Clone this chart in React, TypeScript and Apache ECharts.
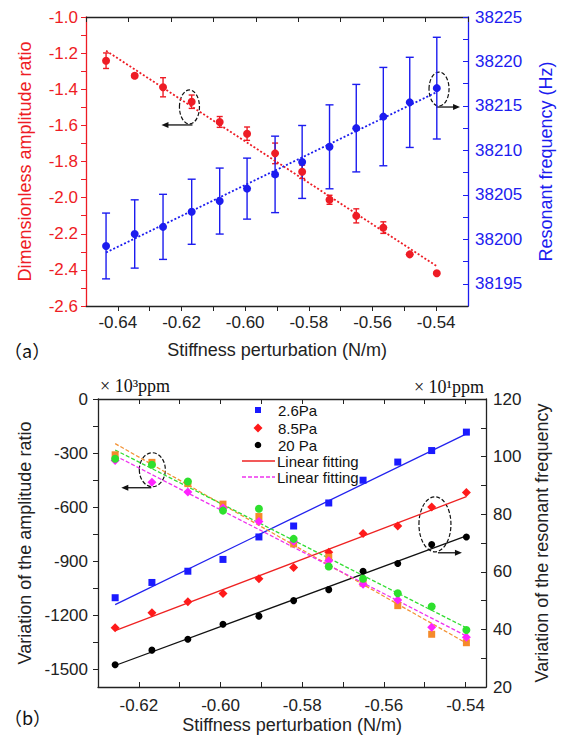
import React, { useEffect, useRef } from "react";
import * as echarts from "echarts";

const FONT = "'Liberation Sans', Arial, Helvetica, sans-serif";
const SERIF = "'Liberation Serif', 'Times New Roman', serif";

// Stiffness perturbation (N/m), shared by both panels
const stiffness = [-0.6437, -0.6347, -0.6258, -0.6168, -0.608, -0.5994, -0.5906, -0.5821, -0.5735, -0.5651, -0.5566, -0.5483, -0.5398];

// Panel (a)
const amplitudeRatio = [-1.242, -1.325, -1.389, -1.469, -1.581, -1.646, -1.755, -1.857, -2.012, -2.101, -2.166, -2.314, -2.419];
const amplitudeErr = [0.043, 0.01, 0.053, 0.037, 0.03, 0.037, 0.057, 0.037, 0.025, 0.039, 0.032, 0.008, 0.008];
const resonantFreq = [38199.25, 38200.6, 38201.4, 38203.1, 38204.3, 38205.7, 38207.3, 38208.7, 38210.4, 38212.5, 38213.8, 38215.4, 38217.0];
const freqErr = [3.7, 3.84, 3.66, 3.66, 3.71, 3.43, 4.3, 4.1, 4.72, 4.92, 5.53, 5.07, 5.72];

const aXTicks = [-0.64, -0.63, -0.62, -0.61, -0.6, -0.59, -0.58, -0.57, -0.56, -0.55, -0.54];
const aXLabels = [-0.64, -0.62, -0.6, -0.58, -0.56, -0.54];
const aLeftTicks = [-2.6, -2.5, -2.4, -2.3, -2.2, -2.1, -2.0, -1.9, -1.8, -1.7, -1.6, -1.5, -1.4, -1.3, -1.2, -1.1, -1.0];
const aLeftLabels = [-2.6, -2.4, -2.2, -2.0, -1.8, -1.6, -1.4, -1.2, -1.0];
const aRightTicks = [38195, 38197.5, 38200, 38202.5, 38205, 38207.5, 38210, 38212.5, 38215, 38217.5, 38220, 38222.5, 38225];
const aRightLabels = [38195, 38200, 38205, 38210, 38215, 38220, 38225];

// Panel (b) (same stiffness points, from the third onward)
const stiffnessB = stiffness.slice(2);
const freq26 = [51.0, 56.3, 60.2, 64.3, 72.1, 75.9, 83.9, 91.8, 98.1, 102.1, 108.5];
const freq85 = [40.6, 45.8, 49.6, 52.5, 57.6, 61.5, 66.8, 73.3, 75.9, 82.5, 87.5];
const freq20 = [27.7, 32.8, 36.6, 41.8, 44.6, 50.0, 53.8, 60.2, 62.9, 69.5, 72.1];
const amp26 = [-310, -352, -470, -584, -653, -805, -879, -1023, -1148, -1307, -1354];
const amp85 = [-341, -462, -517, -605, -681, -790, -898, -1029, -1116, -1268, -1324];
const amp20 = [-332, -365, -458, -620, -610, -777, -931, -999, -1079, -1153, -1283];

const bXTicks = [-0.62, -0.61, -0.6, -0.59, -0.58, -0.57, -0.56, -0.55, -0.54];
const bXLabels = [-0.62, -0.6, -0.58, -0.56, -0.54];
const bLeftTicks = [-1500, -1350, -1200, -1050, -900, -750, -600, -450, -300, -150, 0];
const bLeftLabels = [-1500, -1200, -900, -600, -300, 0];
const bRightTicks = [20, 30, 40, 50, 60, 70, 80, 90, 100, 110, 120];
const bRightLabels = [20, 40, 60, 80, 100, 120];

const legendNames = ["2.6Pa", "8.5Pa", "20 Pa", "Linear fitting", "Linear fitting"];

const RED = "#ee1c25";
const BLUE = "#1c1cef";
const AXIS = "#222";

function linFit(xs: number[], ys: number[]) {
  const n = xs.length;
  const mx = xs.reduce((a, b) => a + b, 0) / n;
  const my = ys.reduce((a, b) => a + b, 0) / n;
  let sxy = 0, sxx = 0;
  for (let i = 0; i < n; i++) {
    sxy += (xs[i] - mx) * (ys[i] - my);
    sxx += (xs[i] - mx) * (xs[i] - mx);
  }
  const k = sxy / sxx;
  const b = my - k * mx;
  return [[xs[0], k * xs[0] + b], [xs[n - 1], k * xs[n - 1] + b]];
}

function errorBars(xs: number[], ys: number[], errs: number[], xi: number, yi: number, color: string, cap: number) {
  return {
    type: "custom",
    xAxisIndex: xi,
    yAxisIndex: yi,
    z: 2,
    data: xs.map((x, i) => [x, ys[i] - errs[i], ys[i] + errs[i]]),
    encode: { x: 0, y: [1, 2] },
    renderItem: (params: any, api: any) => {
      const x = api.value(0);
      const lo = api.coord([x, api.value(1)]);
      const hi = api.coord([x, api.value(2)]);
      const style = { stroke: color, lineWidth: 1.4 };
      return {
        type: "group",
        children: [
          { type: "line", shape: { x1: lo[0], y1: lo[1], x2: hi[0], y2: hi[1] }, style },
          { type: "line", shape: { x1: lo[0] - cap, y1: lo[1], x2: lo[0] + cap, y2: lo[1] }, style },
          { type: "line", shape: { x1: hi[0] - cap, y1: hi[1], x2: hi[0] + cap, y2: hi[1] }, style },
        ],
      };
    },
  };
}

const tickLabel = (color: string, size: number, margin: number, values: number[], fmt: (v: number) => string) => ({
  show: true,
  customValues: values,
  color,
  fontSize: size,
  fontFamily: FONT,
  margin,
  formatter: fmt,
});

function scatter(xs: number[], ys: number[], xi: number, yi: number, symbol: string, size: number, color: string, z = 4) {
  return {
    type: "scatter",
    xAxisIndex: xi,
    yAxisIndex: yi,
    symbol,
    symbolSize: size,
    z,
    itemStyle: { color, opacity: 1 },
    data: xs.map((x, i) => [x, ys[i]]),
  };
}

function fitLine(xs: number[], ys: number[], xi: number, yi: number, color: string, type: any, width: number) {
  return {
    type: "line",
    xAxisIndex: xi,
    yAxisIndex: yi,
    symbol: "none",
    z: 3,
    lineStyle: { color, type, width },
    data: linFit(xs, ys),
  };
}

export default function App() {
  const ref = useRef<HTMLDivElement>(null);
  useEffect(() => {
    if (!ref.current) return;
    const chart = echarts.init(ref.current, undefined, { renderer: "svg" });
    const option: any = {
      animation: false,
      backgroundColor: "#fff",
      grid: [
        { left: 86, top: 17, width: 386, height: 289 },
        { left: 98, top: 399, width: 388, height: 288 },
      ],
      xAxis: [
        {
          gridIndex: 0, type: "value", position: "bottom", min: -0.65, max: -0.53,
          axisLine: { show: true, onZero: false, lineStyle: { color: AXIS, width: 1.3 } },
          axisTick: { show: true, inside: false, length: 5, customValues: aXTicks, lineStyle: { color: AXIS } },
          axisLabel: tickLabel(AXIS, 17, 8, aXLabels, (v: number) => v.toFixed(2)),
          splitLine: { show: false },
          name: "Stiffness perturbation (N/m)", nameLocation: "middle", nameGap: 35,
          nameTextStyle: { color: AXIS, fontSize: 18, fontFamily: FONT },
        },
        {
          gridIndex: 0, type: "value", position: "top", min: 0, max: 9, interval: 1,
          axisLine: { show: true, onZero: false, lineStyle: { color: AXIS, width: 1.3 } },
          axisTick: { show: true, inside: true, length: 5, lineStyle: { color: AXIS } },
          axisLabel: { show: false },
          splitLine: { show: false },
        },
        {
          gridIndex: 1, type: "value", position: "bottom", min: -0.63, max: -0.535,
          axisLine: { show: true, onZero: false, lineStyle: { color: AXIS, width: 1.3 } },
          axisTick: { show: true, inside: true, length: 5, customValues: bXTicks, lineStyle: { color: AXIS } },
          axisLabel: tickLabel(AXIS, 17, 10, bXLabels, (v: number) => v.toFixed(2)),
          splitLine: { show: false },
          name: "Stiffness perturbation (N/m)", nameLocation: "middle", nameGap: 29,
          nameTextStyle: { color: AXIS, fontSize: 18, fontFamily: FONT },
        },
        {
          gridIndex: 1, type: "value", position: "top", min: -0.63, max: -0.535,
          axisLine: { show: true, onZero: false, lineStyle: { color: AXIS, width: 1.3 } },
          axisTick: { show: true, inside: true, length: 5, customValues: bXTicks, lineStyle: { color: AXIS } },
          axisLabel: { show: false },
          splitLine: { show: false },
        },
      ],
      yAxis: [
        {
          gridIndex: 0, type: "value", position: "left", min: -2.6, max: -1.0,
          axisLine: { show: true, onZero: false, lineStyle: { color: RED, width: 1.3 } },
          axisTick: { show: true, inside: false, length: 5, customValues: aLeftTicks, lineStyle: { color: RED } },
          axisLabel: tickLabel(RED, 17, 8, aLeftLabels, (v: number) => v.toFixed(1)),
          splitLine: { show: false },
          name: "Dimensionless amplitude ratio", nameLocation: "middle", nameGap: 52,
          nameTextStyle: { color: RED, fontSize: 18, fontFamily: FONT },
        },
        {
          gridIndex: 0, type: "value", position: "right", min: 38192.5, max: 38225,
          axisLine: { show: true, onZero: false, lineStyle: { color: BLUE, width: 1.3 } },
          axisTick: { show: true, inside: true, length: 5, customValues: aRightTicks, lineStyle: { color: BLUE } },
          axisLabel: tickLabel(BLUE, 17, 7, aRightLabels, (v: number) => String(v)),
          splitLine: { show: false },
          name: "Resonant frequency (Hz)", nameLocation: "middle", nameGap: 69,
          nameTextStyle: { color: BLUE, fontSize: 18, fontFamily: FONT },
        },
        {
          gridIndex: 1, type: "value", position: "left", min: -1600, max: 0,
          axisLine: { show: true, onZero: false, lineStyle: { color: AXIS, width: 1.3 } },
          axisTick: { show: true, inside: false, length: 5, customValues: bLeftTicks, lineStyle: { color: AXIS } },
          axisLabel: tickLabel(AXIS, 17, 10, bLeftLabels, (v: number) => String(v)),
          splitLine: { show: false },
          name: "Variation of the amplitude ratio", nameLocation: "middle", nameGap: 60,
          nameTextStyle: { color: AXIS, fontSize: 18, fontFamily: FONT },
        },
        {
          gridIndex: 1, type: "value", position: "right", min: 20, max: 120,
          axisLine: { show: true, onZero: false, lineStyle: { color: AXIS, width: 1.3 } },
          axisTick: { show: true, inside: true, length: 5, customValues: bRightTicks, lineStyle: { color: AXIS } },
          axisLabel: tickLabel(AXIS, 17, 7, bRightLabels, (v: number) => String(v)),
          splitLine: { show: false },
          name: "Variation of the resonant frequency", nameLocation: "middle", nameGap: 47,
          nameTextStyle: { color: AXIS, fontSize: 18, fontFamily: FONT },
        },
      ],
      series: [
        // Panel (a)
        fitLine(stiffness, amplitudeRatio, 0, 0, RED, [2, 2], 1.8),
        fitLine(stiffness, resonantFreq, 0, 1, BLUE, [2, 2], 1.8),
        errorBars(stiffness, amplitudeRatio, amplitudeErr, 0, 0, RED, 3),
        scatter(stiffness, amplitudeRatio, 0, 0, "circle", 8, RED),
        errorBars(stiffness, resonantFreq, freqErr, 0, 1, BLUE, 4),
        scatter(stiffness, resonantFreq, 0, 1, "circle", 8, BLUE),
        // Panel (b)
        fitLine(stiffnessB, freq26, 2, 3, "#2222ee", "solid", 1.3),
        fitLine(stiffnessB, freq85, 2, 3, "#ee2222", "solid", 1.3),
        fitLine(stiffnessB, freq20, 2, 3, "#111111", "solid", 1.3),
        fitLine(stiffnessB, amp26, 2, 2, "#f39234", [4, 2], 1.3),
        fitLine(stiffnessB, amp85, 2, 2, "#ee33ee", [4, 2], 1.3),
        fitLine(stiffnessB, amp20, 2, 2, "#33dd33", [4, 2], 1.3),
        scatter(stiffnessB, freq26, 2, 3, "rect", 7, "#1a1aff"),
        scatter(stiffnessB, freq85, 2, 3, "diamond", 9, "#ff1a1a"),
        scatter(stiffnessB, freq20, 2, 3, "circle", 7, "#000000"),
        scatter(stiffnessB, amp26, 2, 2, "rect", 7, "#f58a2a"),
        scatter(stiffnessB, amp85, 2, 2, "diamond", 9, "#ff22ff"),
        scatter(stiffnessB, amp20, 2, 2, "circle", 8, "#2ee02e"),
      ],
    };
    chart.setOption(option);

    const px = (xi: number, yi: number, v: number[]) =>
      chart.convertToPixel({ xAxisIndex: xi, yAxisIndex: yi }, v) as number[];

    const dash = { stroke: "#111", fill: "none", lineWidth: 1.2, lineDash: [4, 2] };
    const solid = { stroke: "#111", lineWidth: 1.3 };
    const arrow = (x1: number, x2: number, y: number) => {
      const dir = x2 > x1 ? 1 : -1;
      return [
        { type: "line", shape: { x1, y1: y, x2: x2 - dir * 5, y2: y }, style: solid },
        { type: "polygon", shape: { points: [[x2, y], [x2 - dir * 7, y - 3], [x2 - dir * 7, y + 3]] }, style: { fill: "#111" } },
      ];
    };
    const ellipseWithArrow = (c: number[], rx: number, ry: number, from: number, to: number) => [
      { type: "ellipse", shape: { cx: c[0], cy: c[1], rx, ry }, style: dash },
      ...arrow(c[0] + from, c[0] + to, c[1] + ry + 1),
    ];

    const aRed = px(0, 0, [-0.6175, -1.498]);
    const aBlue = px(0, 1, [-0.5391, 38216.9]);
    const bLeft = px(2, 2, [-0.6167, -393]);
    const bRight = px(2, 3, [-0.5475, 76.5]);

    const txt = (x: number, y: number, text: string, size: number, family: string, align = "left") => ({
      type: "text",
      x, y,
      style: {
        text, fill: "#111", fontSize: size, fontFamily: family, lineHeight: size,
        textAlign: align, textVerticalAlign: "middle", align, verticalAlign: "middle",
      },
    });

    const legendX = 258;
    const legendY = [410, 428, 445, 461, 477];
    const graphic: any[] = [
      ...ellipseWithArrow(aRed, 10, 17, 3, -28),
      ...ellipseWithArrow(aBlue, 10, 17, -3, 21),
      ...ellipseWithArrow(bLeft, 13, 17, -1, -31),
      ...ellipseWithArrow(bRight, 16, 27.5, 3, 27),
      txt(4, 350, "（a）", 18, "'Noto Sans CJK SC', sans-serif"),
      txt(4, 717, "（b）", 18, "'Noto Sans CJK SC', sans-serif"),
      txt(100, 386, "× 10³ppm", 18, SERIF),
      txt(484, 387, "× 10¹ppm", 18, SERIF, "right"),
      // legend of panel (b)
      { type: "rect", shape: { x: legendX - 3, y: legendY[0] - 3, width: 6, height: 6 }, style: { fill: "#1a1aff" } },
      { type: "polygon", shape: { points: [[legendX, legendY[1] - 4.5], [legendX + 4.5, legendY[1]], [legendX, legendY[1] + 4.5], [legendX - 4.5, legendY[1]]] }, style: { fill: "#ff1a1a" } },
      { type: "circle", shape: { cx: legendX, cy: legendY[2], r: 3.3 }, style: { fill: "#000" } },
      { type: "line", shape: { x1: 242, y1: legendY[3], x2: 275, y2: legendY[3] }, style: { stroke: "#ee2222", lineWidth: 1.3 } },
      { type: "line", shape: { x1: 242, y1: legendY[4], x2: 275, y2: legendY[4] }, style: { stroke: "#ee33ee", lineWidth: 1.3, lineDash: [4, 2] } },
      ...legendNames.map((n, i) => txt(i < 3 ? 278 : 277, legendY[i], n, 15, FONT)),
    ];
    chart.setOption({ graphic });
    return () => chart.dispose();
  }, []);
  return (
    <div
      ref={ref}
      style={{ position: "fixed", left: 0, top: 0, width: 563, height: 738, background: "#fff" }}
    />
  );
}
